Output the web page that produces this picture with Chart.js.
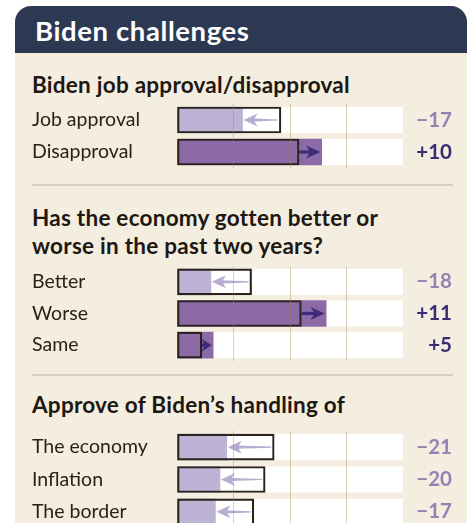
<!DOCTYPE html>
<html>
<head>
<meta charset="utf-8">
<script src="https://cdn.jsdelivr.net/npm/chart.js@4/dist/chart.umd.min.js"></script>
<style>
  html, body { margin: 0; padding: 0; background: #fff; width: 467px; height: 523px; overflow: hidden; font-family: Lato, "Noto Sans", sans-serif; }
  .card { position: absolute; left: 15px; top: 6px; width: 452px; height: 560px; background: #f3eee0; border-radius: 16px 16px 0 0; overflow: hidden; }
  .head { position: absolute; left: 0; top: 0; width: 100%; height: 47px; background: #2d3953; }
  .head span { position: absolute; left: 20px; top: 11px; color: #fff; font-weight: 700; font-size: 27.5px; letter-spacing: 0.6px; line-height: 27px; white-space: nowrap; }
  .ttl { position: absolute; left: 32px; color: #1f1712; font-weight: 700; font-size: 22.5px; letter-spacing: 0.25px; line-height: 27.5px; white-space: nowrap; }
  .rule { position: absolute; left: 32px; width: 421px; height: 2px; background: #d5cfc0; }
  canvas { position: absolute; left: 0; }
</style>
</head>
<body>
<div class="card"><div class="head"><span>Biden challenges</span></div></div>

<div class="ttl" style="top:71px">Biden job approval/disapproval</div>
<canvas id="approval" width="467" height="64" style="top:104px"></canvas>
<div class="rule" style="top:184px"></div>

<div class="ttl" style="top:204px">Has the economy gotten better or<br>worse in the past two years?</div>
<canvas id="economy" width="467" height="95" style="top:266px"></canvas>
<div class="rule" style="top:374px"></div>

<div class="ttl" style="top:391px">Approve of Biden’s handling of</div>
<canvas id="handling" width="467" height="97" style="top:431px"></canvas>

<script>
// Share (%) before and now for each question
const approvalLabels = ['Job approval', 'Disapproval'];
const approvalBefore = [46, 54];
const approvalNow    = [29, 64];

const economyLabels = ['Better', 'Worse', 'Same'];
const economyBefore = [33, 55, 11];
const economyNow    = [15, 66, 16];

const handlingLabels = ['The economy', 'Inflation', 'The border'];
const handlingBefore = [43, 39, 34];
const handlingNow    = [22, 19, 17];

const axisMax = 100;
const gridStep = 25;

const FILL_DOWN = '#bdb3d4';
const FILL_UP = '#8b6aa6';
const ARROW_DOWN = '#b8acd1';
const ARROW_UP = '#3e2b79';
const LABEL_DOWN = '#9980b2';
const LABEL_UP = '#3c2a72';
const BAR = 26;

function signed(d) { return (d > 0 ? '+' : '\u2212') + Math.abs(d); }

function drawArrow(ctx, xTail, xTip, y, color, taper) {
  const dir = Math.sign(xTip - xTail) || 1;
  const span = Math.abs(xTip - xTail);
  const L = Math.min(14, Math.max(span, 10));
  const h = 6.5;
  const baseX = xTip - dir * L;
  const notchX = xTip - dir * L * 0.72;
  ctx.save();
  ctx.fillStyle = color;
  ctx.beginPath();
  ctx.moveTo(xTip, y);
  ctx.lineTo(baseX, y - h);
  ctx.lineTo(notchX, y);
  ctx.lineTo(baseX, y + h);
  ctx.closePath();
  ctx.fill();
  if (dir * (notchX - xTail) > 0) {
    const w1 = 1.6, w0 = taper ? 0.6 : 1.6;
    ctx.beginPath();
    ctx.moveTo(notchX + dir, y - w1);
    ctx.lineTo(xTail, y - w0);
    ctx.lineTo(xTail, y + w0);
    ctx.lineTo(notchX + dir, y + w1);
    ctx.closePath();
    ctx.fill();
  }
  ctx.restore();
}

// Fixed axis widths so every panel shares the same plot column
function fixWidth(w) {
  return s => { s.width = w; s.paddingTop = 0; s.paddingBottom = 0; };
}

function makeChart(id, labels, before, now) {
  const change = now.map((v, i) => v - before[i]);
  const tracks = {
    id: 'tracks',
    beforeDatasetsDraw(chart) {
      const { ctx, scales: { x, y } } = chart;
      const x0 = x.getPixelForValue(0), x1 = x.getPixelForValue(axisMax);
      ctx.save();
      ctx.fillStyle = '#ffffff';
      labels.forEach((_, i) => {
        const cy = y.getPixelForValue(i);
        ctx.fillRect(x0, cy - BAR / 2, x1 - x0, BAR);
      });
      ctx.restore();
    }
  };
  const arrows = {
    id: 'arrows',
    afterDatasetsDraw(chart) {
      const { ctx, scales: { x, y } } = chart;
      labels.forEach((_, i) => {
        const cy = y.getPixelForValue(i);
        const xb = x.getPixelForValue(before[i]);
        const xn = x.getPixelForValue(now[i]);
        if (change[i] < 0) drawArrow(ctx, xb - 3, xn + 1, cy, ARROW_DOWN, true);
        else drawArrow(ctx, xb, xn - 1.5, cy, ARROW_UP, false);
      });
    }
  };
  return new Chart(document.getElementById(id), {
    type: 'bar',
    data: {
      labels,
      datasets: [
        {
          label: 'Now', data: now, order: 2, grouped: false,
          backgroundColor: change.map(d => d < 0 ? FILL_DOWN : FILL_UP),
          borderWidth: 0, barThickness: BAR
        },
        {
          label: 'Before', data: before, order: 1, grouped: false,
          backgroundColor: 'rgba(0,0,0,0)', borderColor: '#2b221b',
          borderWidth: 1.5, borderSkipped: false, barThickness: BAR
        }
      ]
    },
    options: {
      indexAxis: 'y',
      responsive: false,
      animation: false,
      events: [],
      layout: { padding: { left: 32, right: 15, top: 0, bottom: 0 } },
      plugins: { legend: { display: false }, tooltip: { enabled: false } },
      scales: {
        x: {
          type: 'linear', min: 0, max: axisMax,
          border: { display: false },
          ticks: { display: false, stepSize: gridStep },
          grid: {
            z: 1,
            drawTicks: false,
            lineWidth: 1,
            color: ctx => (ctx.tick && ctx.tick.value > 0 && ctx.tick.value < axisMax) ? 'rgba(165,135,75,0.4)' : 'rgba(0,0,0,0)'
          },
          afterFit: s => { s.height = 0; s.paddingLeft = 0; s.paddingRight = 0; }
        },
        y: {
          type: 'category', position: 'left',
          border: { display: false }, grid: { display: false },
          afterFit: fixWidth(145),
          ticks: { autoSkip: false, crossAlign: 'far', color: '#2c2118', font: { family: 'Lato', size: 19.5 } }
        },
        y2: {
          type: 'category', position: 'right', labels: change.map(signed),
          border: { display: false }, grid: { display: false },
          afterFit: fixWidth(49),
          ticks: {
            autoSkip: false,
            crossAlign: 'far',
            color: ctx => change[ctx.index] < 0 ? LABEL_DOWN : LABEL_UP,
            font: { family: 'Lato', size: 20.5, weight: 'bold' }
          }
        }
      }
    },
    plugins: [tracks, arrows]
  });
}

makeChart('approval', approvalLabels, approvalBefore, approvalNow);
makeChart('economy', economyLabels, economyBefore, economyNow);
makeChart('handling', handlingLabels, handlingBefore, handlingNow);
</script>
</body>
</html>
